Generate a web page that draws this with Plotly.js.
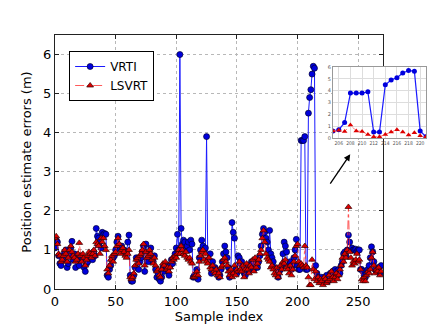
<!DOCTYPE html>
<html>
<head>
<meta charset="utf-8">
<script src="https://cdn.plot.ly/plotly-3.0.1.min.js"></script>
<style>
  html, body { margin: 0; padding: 0; background: #fff; }
  #plot { width: 429px; height: 324px; }
</style>
</head>
<body>
<div id="plot"></div>
<script>
// VRTI position errors (m), samples 0..269
var vrti = [
  1.05, 1.25, 1.2, 0.85, 0.65, 0.6, 0.85, 0.75, 0.95, 1.0,
  0.55, 0.65, 0.9, 1.05, 1.22, 0.75, 0.9, 0.55, 0.8, 0.75,
  0.6, 0.85, 0.8, 0.75, 0.55, 0.45, 0.65, 0.7, 0.8, 0.85,
  0.9, 0.75, 0.95, 0.85, 1.55, 1.35, 1.3, 1.2, 1.05, 1.45,
  1.4, 1.42, 1.4, 0.35, 0.3, 0.5, 0.6, 0.75, 0.8, 0.85,
  1.0, 1.2, 1.35, 1.1, 1.05, 1.1, 1.0, 1.0, 0.9, 0.95,
  1.2, 1.38, 0.35, 0.2, 0.2, 0.35, 0.55, 0.8, 0.75, 0.5,
  0.7, 0.8, 0.95, 1.1, 0.45, 1.15, 0.75, 0.7, 0.9, 1.05,
  0.8, 0.7, 0.85, 0.5, 0.3, 0.4, 0.25, 0.2, 0.3, 0.55,
  0.45, 0.6, 0.55, 0.5, 0.35, 0.6, 0.75, 0.65, 0.8, 0.9,
  1.05, 1.4, 1.0, 6.0, 1.55, 1.15, 1.25, 1.2, 1.05, 1.1,
  1.2, 1.0, 1.25, 1.15, 0.3, 0.35, 0.3, 0.5, 0.25, 0.8,
  1.0, 1.25, 1.1, 1.0, 1.05, 3.9, 0.75, 0.7, 0.9, 0.4,
  0.7, 0.5, 0.55, 0.45, 0.4, 0.3, 0.35, 0.5, 0.7, 0.9,
  1.1, 0.95, 0.8, 0.55, 0.3, 0.4, 1.7, 1.45, 1.3, 0.5,
  0.4, 0.85, 0.8, 0.65, 0.7, 0.55, 0.4, 0.35, 0.5, 0.6,
  0.45, 0.55, 0.7, 0.65, 0.5, 0.75, 0.6, 0.55, 0.7, 0.85,
  1.1, 1.4, 1.55, 1.45, 1.3, 1.2, 1.0, 1.5, 0.9, 0.8,
  0.7, 0.55, 0.5, 0.4, 0.3, 0.45, 0.5, 0.6, 0.9, 1.2,
  1.1, 0.95, 0.6, 0.55, 0.7, 0.5, 0.6, 0.8, 1.0, 1.27,
  0.6, 0.5, 0.5, 3.8, 3.8, 3.8, 3.9, 0.5, 0.5, 4.5,
  4.9, 5.1, 5.5, 5.7, 5.65, 0.6, 0.4, 0.3, 0.2, 0.25,
  0.3, 0.2, 0.25, 0.3, 0.35, 0.2, 0.3, 0.4, 0.35, 0.45,
  0.4, 0.5, 0.45, 0.35, 0.5, 0.4, 0.6, 0.7, 0.9, 0.95,
  0.85, 1.0, 1.38, 1.2, 1.0, 1.05, 1.0, 1.0, 1.02, 0.95,
  1.0, 1.0, 0.5, 0.5, 0.45, 0.35, 0.3, 0.4, 0.5, 0.6,
  0.8, 1.08, 0.95, 0.7, 0.5, 0.45, 0.55, 0.5, 0.4, 0.6
];

// LSVRT position errors (m), samples 0..269
var lsvrt = [
  1.3, 1.35, 1.15, 0.9, 0.85, 0.7, 0.75, 0.85, 1.0, 0.9,
  0.7, 0.8, 1.0, 1.1, 0.95, 0.85, 0.8, 0.7, 0.75, 0.9,
  1.18, 0.85, 0.7, 0.9, 0.8, 0.6, 0.75, 0.85, 0.95, 0.9,
  0.8, 0.9, 1.0, 0.85, 1.2, 1.15, 1.1, 0.9, 1.3, 1.2,
  1.3, 1.1, 1.0, 0.5, 0.4, 0.6, 0.75, 0.85, 0.7, 0.9,
  0.95, 1.1, 1.3, 1.15, 0.9, 1.0, 1.05, 0.95, 0.85, 0.8,
  0.9, 1.0, 0.3, 0.25, 0.3, 0.4, 0.6, 0.75, 0.8, 0.65,
  0.85, 0.9, 1.0, 1.15, 0.6, 0.95, 0.8, 0.85, 1.0, 0.9,
  0.75, 0.65, 0.8, 0.6, 0.45, 0.5, 0.35, 0.3, 0.5, 0.65,
  0.6, 0.7, 0.5, 0.55, 0.45, 0.55, 0.7, 0.8, 0.75, 0.85,
  0.8, 0.9, 1.0, 0.9, 1.1, 1.0, 0.9, 0.85, 0.95, 0.8,
  0.75, 0.8, 0.7, 0.65, 0.3, 0.3, 0.35, 0.45, 0.35, 0.7,
  0.85, 0.95, 1.0, 0.75, 0.9, 0.7, 0.65, 0.8, 0.55, 0.5,
  0.6, 0.45, 0.4, 0.5, 0.35, 0.4, 0.3, 0.55, 0.6, 0.75,
  0.8, 0.7, 0.6, 0.45, 0.35, 0.5, 0.3, 0.4, 0.6, 0.35,
  0.5, 0.45, 0.7, 0.5, 0.45, 0.6, 0.3, 0.5, 0.65, 0.5,
  0.4, 0.6, 0.55, 0.75, 0.45, 0.8, 0.55, 0.65, 0.75, 0.9,
  1.0, 1.3, 1.5, 1.2, 0.9, 0.8, 0.75, 0.7, 0.55, 0.6,
  0.5, 0.4, 0.35, 0.55, 0.3, 0.4, 0.6, 0.5, 0.7, 0.65,
  0.75, 0.55, 0.5, 0.4, 0.6, 0.35, 0.5, 0.7, 0.85, 1.1,
  1.15, 0.7, 0.6, 0.65, 0.6, 0.55, 1.1, 0.6, 0.55, 0.3,
  0.1, 0.1, 0.75, 0.5, 0.25, 0.45, 0.2, 0.3, 0.15, 0.25,
  0.2, 0.1, 0.3, 0.25, 0.15, 0.2, 0.35, 0.25, 0.45, 0.3,
  0.2, 0.3, 0.4, 0.25, 0.35, 0.5, 0.6, 0.8, 0.7, 0.9,
  0.8, 1.0, 2.1, 0.95, 0.8, 0.6, 0.7, 0.65, 0.75, 0.9,
  0.7, 0.75, 0.5, 0.25, 0.2, 0.3, 0.2, 0.35, 0.45, 0.4,
  0.5, 0.8, 0.95, 0.6, 0.4, 0.5, 0.45, 0.55, 0.35, 0.45
];

var samples = vrti.map(function (v, i) { return i; });

// zoomed inset, as labelled in the picture
var insetIdx = [205, 206, 207, 208, 209, 210, 211, 212, 213, 214, 215, 216, 217, 218, 219, 220, 221];
var insetVrti = [0.6, 0.7, 1.3, 3.8, 3.8, 3.8, 3.9, 0.5, 0.5, 4.5, 4.9, 5.1, 5.5, 5.7, 5.65, 0.6, 0.1];
var insetLsvrt = [0.6, 0.65, 0.55, 1.1, 0.6, 0.55, 0.3, 0.1, 0.1, 0.3, 0.5, 0.7, 0.5, 0.25, 0.45, 0.2, 0.1];

var blue = "#1a1aff";
var red = "#dd0000";

var trace1 = {
  x: samples, y: vrti, name: "VRTI", type: "scatter", mode: "lines+markers",
  line: {color: blue, width: 1},
  marker: {symbol: "circle", size: 6, color: "#0000dd", line: {color: "#000033", width: 0.7}}
};
var trace2 = {
  x: samples, y: lsvrt, name: "LSVRT", type: "scatter", mode: "lines+markers",
  line: {color: "#ff3030", width: 0.8, dash: "dashdot"},
  marker: {symbol: "triangle-up", size: 6, color: red, line: {color: "#330000", width: 0.7}}
};
var inset1 = {
  x: insetIdx, y: insetVrti, xaxis: "x2", yaxis: "y2", showlegend: false,
  type: "scatter", mode: "lines+markers",
  line: {color: blue, width: 1.2},
  marker: {symbol: "circle", size: 5, color: "#0000dd"}
};
var inset2 = {
  x: insetIdx, y: insetLsvrt, xaxis: "x2", yaxis: "y2", showlegend: false,
  type: "scatter", mode: "lines+markers",
  line: {color: "#ff7070", width: 1, dash: "dot"},
  marker: {symbol: "triangle-up", size: 5, color: red}
};

var axisFont = {family: "DejaVu Sans, sans-serif", size: 13, color: "#000"};

var layout = {
  width: 429, height: 324,
  margin: {l: 55, r: 2, t: 35, b: 35},
  paper_bgcolor: "#fff", plot_bgcolor: "#fff",
  font: {family: "DejaVu Sans, sans-serif"},
  showlegend: true,
  legend: {
    x: 0.038, y: 0.937, xanchor: "left", yanchor: "top",
    bordercolor: "#000", borderwidth: 1, bgcolor: "#fff",
    font: {size: 12, color: "#000"}, itemwidth: 30, tracegroupgap: 0
  },
  xaxis: {
    domain: [0, 0.8817], range: [0, 270.5],
    tickvals: [0, 50, 100, 150, 200, 250],
    showgrid: true, gridcolor: "#b8b8b8", griddash: "dot", gridwidth: 1,
    zeroline: false, showline: true, mirror: "ticks", linecolor: "#222", linewidth: 1,
    ticks: "inside", ticklen: 4, tickcolor: "#222",
    tickfont: axisFont,
    title: {text: "Sample index", font: axisFont, standoff: 0}
  },
  yaxis: {
    domain: [0, 1], range: [0, 6.5],
    tickvals: [0, 1, 2, 3, 4, 5, 6],
    showgrid: true, gridcolor: "#b8b8b8", griddash: "dot", gridwidth: 1,
    zeroline: false, showline: true, mirror: "ticks", linecolor: "#222", linewidth: 1,
    ticks: "inside", ticklen: 4, tickcolor: "#222",
    tickfont: axisFont,
    title: {text: "Position estimate errors (m)", font: axisFont, standoff: 8}
  },
  xaxis2: {
    anchor: "y2", domain: [0.7473, 0.9973], range: [205, 221],
    tickvals: [206, 208, 210, 212, 214, 216, 218, 220], tickangle: 0,
    showgrid: true, gridcolor: "#ddd", zeroline: false,
    showline: true, mirror: true, linecolor: "#999",
    ticks: "", tickfont: {family: "DejaVu Sans Condensed, DejaVu Sans, sans-serif", size: 5, color: "#555"}
  },
  yaxis2: {
    anchor: "x2", domain: [0.5945, 0.874], range: [0, 6],
    tickvals: [0, 1, 2, 3, 4, 5, 6],
    showgrid: true, gridcolor: "#ddd", zeroline: false,
    showline: true, mirror: true, linecolor: "#999",
    ticks: "", tickfont: {size: 5, color: "#555"}
  },
  annotations: [{
    x: 243.5, y: 3.45, xref: "x", yref: "y",
    ax: -21, ay: 31, axref: "pixel", ayref: "pixel",
    showarrow: true, arrowhead: 2, arrowsize: 1, arrowwidth: 1.3, arrowcolor: "#000", text: ""
  }]
};

Plotly.newPlot("plot", [trace1, trace2, inset1, inset2], layout, {displayModeBar: false, staticPlot: true});
</script>
</body>
</html>
